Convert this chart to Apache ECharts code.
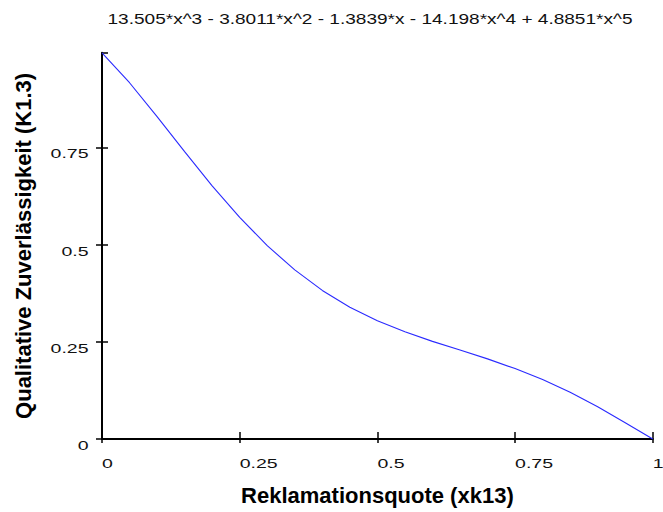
<!DOCTYPE html>
<html>
<head>
<meta charset="utf-8">
<script src="https://cdn.jsdelivr.net/npm/echarts@6/dist/echarts.min.js"></script>
<style>
  html, body { margin: 0; padding: 0; background: #fff; }
  #chart { width: 663px; height: 512px; }
</style>
</head>
<body>
<div id="chart"></div>
<script>
// Fitted curve: quality reliability vs. complaint rate
const titleText = '13.505*x^3 - 3.8011*x^2 - 1.3839*x - 14.198*x^4 + 4.8851*x^5';
const xValues = [0, 0.05, 0.1, 0.15, 0.2, 0.25, 0.3, 0.35, 0.4, 0.45, 0.5,
                 0.55, 0.6, 0.65, 0.7, 0.75, 0.8, 0.85, 0.9, 0.95, 1];
const yValues = [0.993, 0.916, 0.829, 0.739, 0.651, 0.570, 0.497, 0.435, 0.382, 0.339, 0.304,
                 0.276, 0.251, 0.229, 0.206, 0.181, 0.153, 0.120, 0.083, 0.042, 0.000];
const xTickLabels = ['0', '0.25', '0.5', '0.75', '1'];
const yTickLabels = ['0', '0.25', '0.5', '0.75'];

const points = xValues.map((x, i) => [x, yValues[i]]);
const font = '"Liberation Sans", Arial, sans-serif';

const chart = echarts.init(document.getElementById('chart'), null, { renderer: 'svg' });

const tickLabel = (labels) => (v) => {
  const s = String(Math.round(v * 100) / 100);
  return labels.includes(s) ? s : '';
};

chart.setOption({
  animation: false,
  backgroundColor: '#ffffff',
  title: {
    text: titleText,
    left: 370,
    top: 12,
    padding: 0,
    textAlign: 'center',
    textStyle: { fontFamily: font, fontSize: 14, fontWeight: 'normal', color: '#111' }
  },
  grid: { left: 102, right: 9.5, top: 52.8, bottom: 73 },
  xAxis: [{
    type: 'value', min: 0, max: 1, interval: 0.25,
    name: 'Reklamationsquote (xk13)',
    nameLocation: 'middle', nameGap: 45,
    nameTextStyle: { fontFamily: font, fontSize: 22, fontWeight: 'bold', color: '#000' },
    axisLine: { show: true, onZero: false, lineStyle: { color: '#000', width: 2 } },
    axisTick: { show: true, inside: false, length: 4, lineStyle: { color: '#000', width: 1.5 } },
    axisLabel: { fontFamily: font, fontSize: 13, color: '#111', margin: 18, align: 'left',
                 formatter: tickLabel(xTickLabels) },
    splitLine: { show: false }
  }, {
    // inner half of the crossing ticks
    type: 'value', min: 0, max: 1, interval: 0.25, position: 'bottom',
    axisLine: { show: false },
    axisTick: { show: true, inside: true, length: 7, lineStyle: { color: '#000', width: 1.5 } },
    axisLabel: { show: false },
    splitLine: { show: false }
  }],
  yAxis: [{
    type: 'value', min: 0, max: 0.993, interval: 0.25,
    name: 'Qualitative Zuverlässigkeit (K1.3)',
    nameLocation: 'middle', nameGap: 68,
    nameTextStyle: { fontFamily: font, fontSize: 22, fontWeight: 'bold', color: '#000' },
    axisLine: { show: true, onZero: false, lineStyle: { color: '#000', width: 2 } },
    axisTick: { show: true, inside: false, length: 6, lineStyle: { color: '#000', width: 1.5 } },
    axisLabel: { fontFamily: font, fontSize: 13, color: '#111', margin: 13.5,
                 verticalAlign: 'top',
                 showMaxLabel: false, formatter: tickLabel(yTickLabels) },
    splitLine: { show: false }
  }, {
    type: 'value', min: 0, max: 0.993, interval: 0.25, position: 'left',
    axisLine: { show: false },
    axisTick: { show: true, inside: true, length: 6, lineStyle: { color: '#000', width: 1.5 } },
    axisLabel: { show: false },
    splitLine: { show: false }
  }],
  series: [{
    type: 'line',
    data: points,
    smooth: false,
    showSymbol: false,
    lineStyle: { color: '#2a2aff', width: 1.1 },
    clip: false
  }]
});

// Widen the regular-weight texts horizontally (the wide screen-font look)
// by stretching their glyphs to a longer text length; the text anchor keeps alignment.
function widenTexts() {
  const svg = document.querySelector('#chart svg');
  if (!svg) return;
  svg.querySelectorAll('text').forEach((t) => {
    try {
      if (t.hasAttribute('textLength')) return;
      const cs = getComputedStyle(t);
      if (parseInt(cs.fontWeight, 10) >= 600) return;
      const txt = t.textContent || '';
      if (!txt.length) return;
      const fs = parseFloat(cs.fontSize);
      const s = fs >= 14 ? 1.36 : 1.5;
      const w = t.getComputedTextLength();
      if (!(w > 0)) return;
      t.setAttribute('lengthAdjust', 'spacingAndGlyphs');
      t.setAttribute('textLength', String(w * s));
    } catch (e) { /* leave this text as drawn */ }
  });
}
widenTexts();
chart.on('finished', widenTexts);
chart.on('rendered', widenTexts);
[0, 50, 200, 500, 1000].forEach((d) => setTimeout(widenTexts, d));
</script>
</body>
</html>
